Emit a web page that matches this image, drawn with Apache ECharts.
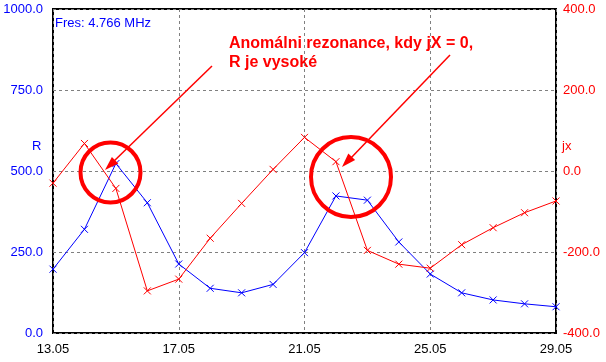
<!DOCTYPE html>
<html><head><meta charset="utf-8">
<script src="https://cdn.jsdelivr.net/npm/echarts@6/dist/echarts.min.js"></script>
<style>html,body{margin:0;padding:0;background:#fff}#c{width:606px;height:362px}</style>
</head><body><div id="c"></div>
<script>
const days = [13,14,15,16,17,18,19,20,21,22,23,24,25,26,27,28,29];
const rValues = [197,320,523,402,213,138,124,150,248,423,410,281,182,124,102,90,81];
const jxValues = [-30,68,-43,-296,-267,-166,-80,4,83,23,-196,-230,-240,-182,-140,-103,-74];
const xTickLabels = {13:'13.05',17:'17.05',21:'21.05',25:'25.05',29:'29.05'};
const fresText = 'Fres: 4.766 MHz';
const noteLines = ['Anomálni rezonance, kdy jX = 0,', 'R je vysoké'];

const F = 'Arial, "Liberation Sans", sans-serif';
const X = 'path://M0,0L10,10M10,0L0,10';
const chart = echarts.init(document.getElementById('c'));
chart.setOption({
  animation:false,
  backgroundColor:'#fff',
  grid:{left:53,right:50,top:9,bottom:29,show:true,borderColor:'#000',borderWidth:2,backgroundColor:'transparent'},
  xAxis:{type:'value',min:13,max:29,interval:4,
    axisLine:{show:false},axisTick:{show:false},
    axisLabel:{color:'#000',fontFamily:F,fontSize:13,margin:10,formatter:v=>xTickLabels[v]||''},
    splitLine:{show:true,lineStyle:{color:'#808080',type:[3,3],width:1}}},
  yAxis:[
    {type:'value',min:0,max:1000,interval:250,position:'left',
      axisLine:{show:false},axisTick:{show:false},
      axisLabel:{color:'#0000ff',fontFamily:F,fontSize:13,margin:10,formatter:v=>v.toFixed(1)},
      splitLine:{show:true,lineStyle:{color:'#808080',type:[3,3],width:1}}},
    {type:'value',min:-400,max:400,interval:200,position:'right',
      axisLine:{show:false},axisTick:{show:false},
      axisLabel:{color:'#ff0000',fontFamily:F,fontSize:13,margin:7,formatter:v=>v.toFixed(1)},
      splitLine:{show:false}}
  ],
  series:[
    {type:'line',yAxisIndex:0,data:days.map((d,i)=>[d,rValues[i]]),
      symbol:X,symbolSize:7,showAllSymbol:true,
      lineStyle:{color:'#0000ff',width:1},
      itemStyle:{color:'none',borderColor:'#0000ff',borderWidth:1}},
    {type:'line',yAxisIndex:1,data:days.map((d,i)=>[d,jxValues[i]]),
      symbol:X,symbolSize:7,showAllSymbol:true,
      lineStyle:{color:'#ff0000',width:1},
      itemStyle:{color:'none',borderColor:'#ff0000',borderWidth:1}}
  ],
  graphic:[
    {type:'text',left:55,top:17,style:{text:fresText,fill:'#0000ff',font:'13px '+F}},
    {type:'text',left:32,top:140,style:{text:'R',fill:'#0000ff',font:'13px '+F}},
    {type:'text',left:562,top:140,style:{text:'jx',fill:'#ff0000',font:'13px '+F}},
    {type:'text',left:229,top:36,style:{text:noteLines[0],fill:'#ff0000',font:'bold 16px '+F}},
    {type:'text',left:229,top:55,style:{text:noteLines[1],fill:'#ff0000',font:'bold 16px '+F}},
    {type:'circle',shape:{cx:110.5,cy:172.5,r:30},style:{fill:'none',stroke:'#ff0000',lineWidth:4},z:10},
    {type:'circle',shape:{cx:351,cy:177,r:40},style:{fill:'none',stroke:'#ff0000',lineWidth:4},z:10},
    {type:'line',shape:{x1:212,y1:66,x2:112,y2:163},style:{stroke:'#ff0000',lineWidth:1.5},z:10},
    {type:'polygon',shape:{points:[[105,170],[118.3,163.4],[111.9,156.9]]},style:{fill:'#ff0000'},z:10},
    {type:'line',shape:{x1:450,y1:55,x2:349,y2:160},style:{stroke:'#ff0000',lineWidth:1.5},z:10},
    {type:'polygon',shape:{points:[[342,167],[355.1,160.1],[348.3,153.6]]},style:{fill:'#ff0000'},z:10}
  ]
});
</script></body></html>
